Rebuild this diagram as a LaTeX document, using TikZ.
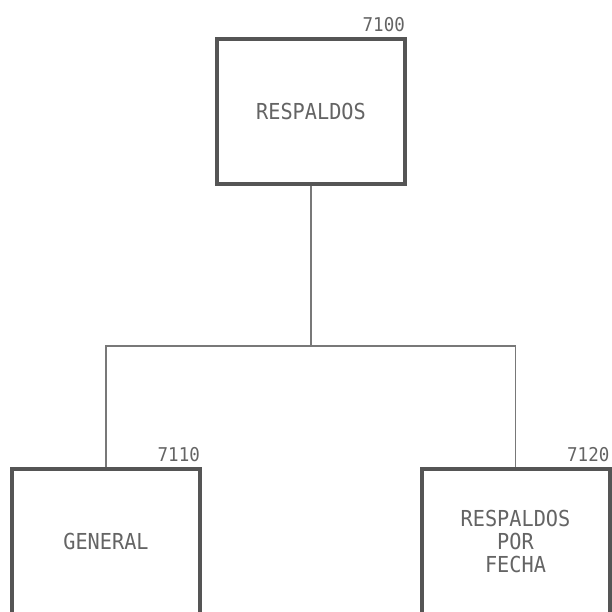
\documentclass[tikz,border=0pt]{standalone}
\usepackage{fontspec}
\usepackage{xcolor}
\usepackage{tikz}
\usetikzlibrary{positioning}
\newfontfamily\dotfont[FakeStretch=0.92]{DejaVu Sans Mono}
\definecolor{boxgray}{RGB}{85,85,85}
\definecolor{linegray}{RGB}{120,120,120}
\definecolor{textgray}{RGB}{100,100,100}

\begin{document}
\begin{tikzpicture}[x=1pt, y=-1pt,
    menu/.style={draw=boxgray, line width=4pt, minimum width=188pt,
        minimum height=145pt, align=center, text=textgray,
        font=\dotfont\fontsize{22}{23}\selectfont, inner sep=0pt},
    tag/.style={anchor=south east, inner sep=0pt, text=textgray,
        font=\dotfont\fontsize{19}{19}\selectfont},
    link/.style={draw=linegray, line width=1.4pt}
]
\useasboundingbox[fill=white] (0,0) rectangle (612,612);
\node[menu] (resp) at (311,111.5) {RESPALDOS};
\node[menu] (gen) at (106,541.5) {GENERAL};
\node[menu] (fecha) at (515.5,541.5) {RESPALDOS\\POR\\FECHA};
\node[tag] (tresp) at ([xshift=-2pt,yshift=5pt]resp.north east) {7100};
\node[tag] (tgen) at ([xshift=-2pt,yshift=5pt]gen.north east) {7110};
\node[tag] (tfecha) at ([xshift=-2pt,yshift=5pt]fecha.north east) {7120};
\coordinate (split) at (311,346);
\draw[link] (resp.south) -- (split);
\draw[link] (gen.north) |- (split) -| (fecha.north);
\end{tikzpicture}
\end{document}
